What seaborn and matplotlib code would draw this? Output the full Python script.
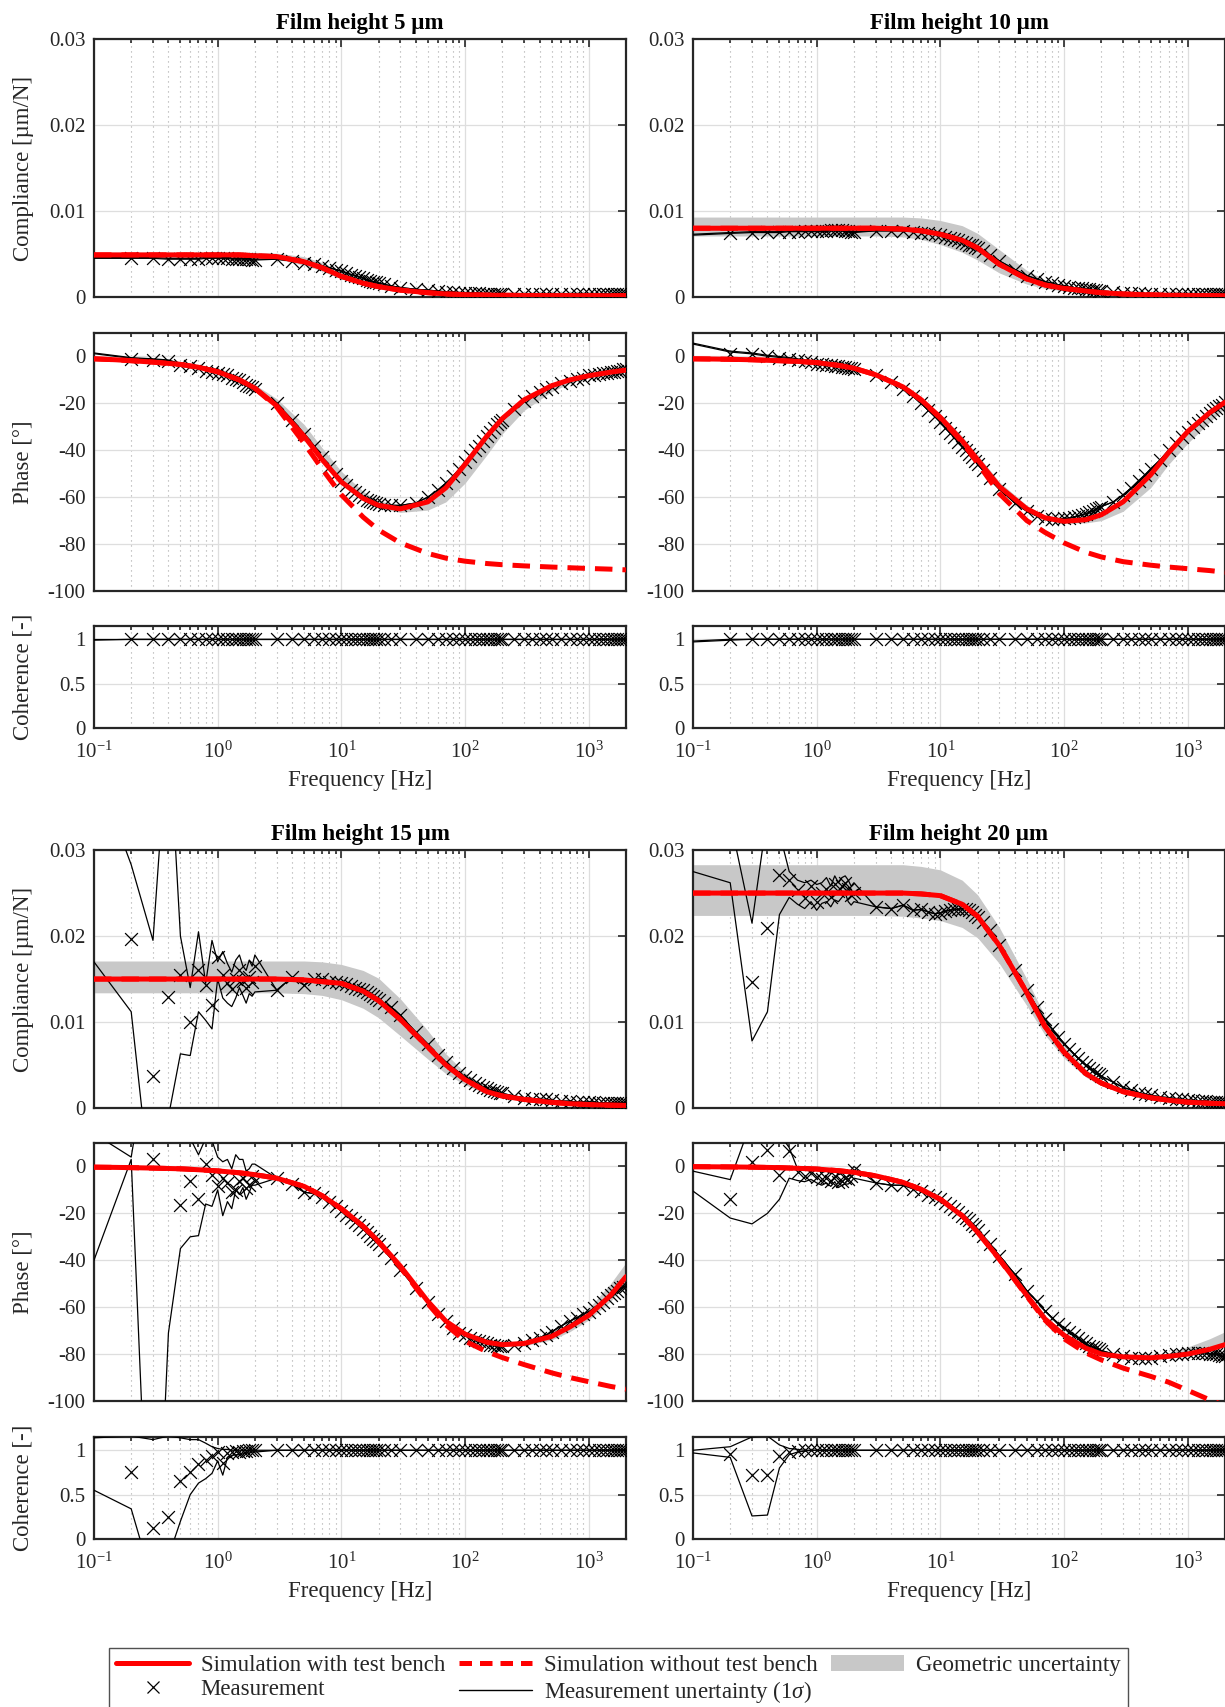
import numpy as np
import matplotlib
matplotlib.use("Agg")
import matplotlib.pyplot as plt
import seaborn as sns
from matplotlib.lines import Line2D
from matplotlib.patches import Patch
from matplotlib.ticker import LogLocator, FixedLocator, FixedFormatter, LogFormatterMathtext, NullFormatter

# simulation frequency grid [Hz]
F_SIM = [0.1, 0.15, 0.2, 0.3, 0.5, 0.7, 1, 1.5, 2, 3, 5, 7, 10, 15, 20, 30, 50, 70,
         100, 150, 200, 300, 500, 700, 1000, 1500, 2000]
# measurement frequencies [Hz]
MEAS_F = [0.2, 0.3, 0.4, 0.5, 0.6, 0.7, 0.8, 0.9, 1.0, 1.1, 1.2, 1.3, 1.4, 1.5, 1.6, 1.7, 1.8, 1.9, 2.0,
          3, 4, 5, 6, 7, 8, 9, 10, 11, 12, 13, 14, 15, 16, 17, 18, 19, 20, 22, 25,
          30, 40, 50, 60, 70, 80, 90, 100, 110, 120, 130, 140, 150, 160, 170, 180, 190, 200,
          250, 300, 350, 400, 450, 500, 600, 700, 800, 900, 1000, 1100, 1200, 1300, 1400, 1500,
          1600, 1700, 1800, 1900, 2000]
# low frequency part of the uncertainty bounds (above 2 Hz they follow the measurement)
UNC_F = [0.1, 0.2, 0.3, 0.4, 0.5, 0.6, 0.7, 0.8, 0.9, 1.0, 1.1, 1.2, 1.3, 1.4, 1.5, 1.6, 1.7, 1.8, 1.9, 2.0]

TITLES = ["Film height 5 µm", "Film height 10 µm", "Film height 15 µm", "Film height 20 µm"]
COMP_TICKS = [0, 0.01, 0.02, 0.03]
COMP_LABELS = ["0", "0.01", "0.02", "0.03"]
PH_TICKS = [-100, -80, -60, -40, -20, 0]
PH_LABELS = ["-100", "-80", "-60", "-40", "-20", "0"]
COH_TICKS = [0, 0.5, 1]
COH_LABELS = ["0", "0.5", "1"]

# ---------------- 5 um ----------------
COMP5_SIM = [0.0049, 0.0049, 0.0049, 0.0049, 0.0049, 0.0049, 0.0049, 0.0049, 0.0048, 0.0047, 0.0041, 0.0034, 0.0024,
             0.0016, 0.0012, 0.0008, 0.0005, 0.00036, 0.00028, 0.00022, 0.0002, 0.00018, 0.00017, 0.00016, 0.00016,
             0.00015, 0.00015]
COMP5_GEO_HI = [0.0052, 0.0052, 0.0052, 0.0052, 0.0052, 0.0052, 0.0052, 0.0052, 0.0052, 0.0051, 0.0047, 0.0040, 0.0030,
                0.0020, 0.0015, 0.0010, 0.0006, 0.00045, 0.00035, 0.00028, 0.00025, 0.00022, 0.00021, 0.0002, 0.0002,
                0.00019, 0.00019]
COMP5_GEO_LO = [0.0046, 0.0046, 0.0046, 0.0046, 0.0046, 0.0046, 0.0046, 0.0046, 0.0045, 0.0044, 0.0037, 0.0030, 0.0021,
                0.0014, 0.0010, 0.0007, 0.00042, 0.0003, 0.00024, 0.0002, 0.00017, 0.00015, 0.00014, 0.00013, 0.00013,
                0.00012, 0.00012]
PH5_SIM = [-1, -1.4, -1.8, -2.4, -3.4, -4.6, -6.5, -10, -13.5, -21, -34, -44, -53.5, -60.5, -63.5, -65, -62, -56,
           -46, -34, -26.5, -18.5, -12.5, -10, -8.2, -6.7, -5.8]
PH5_NOTB = [-1, -1.4, -1.8, -2.4, -3.4, -4.6, -6.5, -10, -13.6, -21.5, -37, -48, -59, -68.5, -74, -79.5, -84, -86,
            -87.3, -88.3, -88.8, -89.3, -89.8, -90.1, -90.4, -90.7, -91]
PH5_GEO_HI = [-0.5, -0.9, -1.3, -1.9, -2.9, -4, -5.8, -9, -12, -18, -29, -39, -49, -57.5, -61.5, -63.5, -61.5, -55,
              -45, -33, -25.5, -18, -12, -9.6, -7.9, -6.4, -5.5]
PH5_GEO_LO = [-1.5, -1.9, -2.3, -2.9, -3.9, -5.1, -7, -10.5, -14, -21.5, -34.5, -44.5, -54, -61, -64.5, -66.5, -65.5,
              -62, -54, -42, -33, -23, -15, -11.5, -9, -7.3, -6.3]
COMP5_MEAS = [0.0045, 0.0045, 0.0044, 0.0044, 0.0044, 0.0044, 0.0045, 0.0045, 0.0045, 0.0045,
              0.0045, 0.0044, 0.0044, 0.0044, 0.0044, 0.0044, 0.0044, 0.0043, 0.0043,
              0.0044, 0.0042, 0.0040, 0.0038, 0.0036, 0.0034, 0.0032, 0.0030, 0.0028, 0.0026,
              0.0025, 0.0023, 0.0022, 0.0020, 0.0019, 0.0018, 0.0017, 0.0016, 0.0015, 0.0013,
              0.0011, 0.0009, 0.0008, 0.0007, 0.0006, 0.0006, 0.0005, 0.0005, 0.0005,
              0.0005, 0.0005, 0.0004, 0.0004, 0.0004, 0.0004, 0.0004, 0.0004, 0.0004,
              0.0004, 0.0004, 0.0004, 0.0004, 0.0004, 0.0004, 0.0004, 0.0004, 0.0004, 0.0004, 0.0004,
              0.0004, 0.0004, 0.0004, 0.0004, 0.0004, 0.0004, 0.0004, 0.0004, 0.0004, 0.0004]
PH5_MEAS = [-1, -1.5, -2, -3.5, -4, -5, -6, -6.5, -7, -7.5, -8, -9, -9.5, -10, -11, -12, -12.5, -13, -14,
            -20, -27, -33, -38, -43, -47, -50, -53, -55, -57, -58, -59, -60, -61, -61.5, -62, -62.5, -63, -63.5, -63.5,
            -63.5, -62.5, -60, -57, -54, -51, -48, -45, -42.5, -40, -38, -36, -34, -32, -30.5, -29, -28, -27,
            -22.5, -19, -17, -15, -14, -13, -11.5, -10.5, -9.5, -9, -8, -8, -7.5, -7, -7, -6.5,
            -6.5, -6, -6, -5.5, -5.5]
COH5_MEAS = [1.0, 1.0, 1.0, 1.0, 1.0, 1.0, 1.0, 1.0, 1.0, 1.0, 1.0, 1.0, 1.0, 1.0, 1.0, 1.0, 1.0, 1.0, 1.0,
             1.0, 1.0, 1.0, 1.0, 1.0, 1.0, 1.0, 1.0, 1.0, 1.0, 1.0, 1.0, 1.0, 1.0, 1.0, 1.0, 1.0, 1.0, 1.0, 1.0,
             1.0, 1.0, 1.0, 1.0, 1.0, 1.0, 1.0, 1.0, 1.0, 1.0, 1.0, 1.0, 1.0, 1.0, 1.0, 1.0, 1.0, 1.0,
             1.0, 1.0, 1.0, 1.0, 1.0, 1.0, 1.0, 1.0, 1.0, 1.0, 1.0, 1.0, 1.0, 1.0, 1.0, 1.0,
             1.0, 1.0, 1.0, 1.0, 1.0]
COMP5_UNC_HI = [0.0046, 0.0046, 0.0046, 0.0045, 0.0045, 0.0045, 0.0045, 0.0046, 0.0046, 0.0046,
                0.0046, 0.0046, 0.0045, 0.0045, 0.0045, 0.0045, 0.0045, 0.0045, 0.0044, 0.0044]
COMP5_UNC_LO = [0.0045, 0.0045, 0.0045, 0.0044, 0.0044, 0.0044, 0.0044, 0.0045, 0.0045, 0.0045,
                0.0045, 0.0045, 0.0044, 0.0044, 0.0044, 0.0044, 0.0044, 0.0044, 0.0043, 0.0043]
PH5_UNC_HI = [1.5, -0.5, -1, -1.5, -3, -3.5, -4.5, -5.5, -6, -6.5, -7, -7.5, -8.5, -9, -9.5, -10.5, -11.5, -12, -12.5, -13.5]
PH5_UNC_LO = [1.2, -0.8, -1.3, -1.8, -3.3, -3.8, -4.8, -5.8, -6.3, -6.8, -7.3, -7.8, -8.8, -9.3, -9.8, -10.8, -11.8, -12.3, -12.8, -13.8]
COH5_UNC_HI = [1.0, 1.0, 1.0, 1.0, 1.0, 1.0, 1.0, 1.0, 1.0, 1.0, 1.0, 1.0, 1.0, 1.0, 1.0, 1.0, 1.0, 1.0, 1.0, 1.0]
COH5_UNC_LO = [0.99, 1.0, 1.0, 1.0, 1.0, 1.0, 1.0, 1.0, 1.0, 1.0, 1.0, 1.0, 1.0, 1.0, 1.0, 1.0, 1.0, 1.0, 1.0, 1.0]

# ---------------- 10 um ----------------
COMP10_SIM = [0.0080, 0.0080, 0.0080, 0.0080, 0.0080, 0.0080, 0.0080, 0.0080, 0.0080, 0.0080, 0.0079, 0.0077, 0.0073,
              0.0066, 0.0057, 0.0038, 0.0021, 0.0014, 0.0010, 0.0007, 0.0005, 0.00035, 0.00025, 0.0002, 0.00018,
              0.00016, 0.00015]
COMP10_GEO_HI = [0.0093, 0.0093, 0.0093, 0.0093, 0.0093, 0.0093, 0.0093, 0.0093, 0.0093, 0.0093, 0.0093, 0.0092, 0.0089,
                 0.0083, 0.0074, 0.0055, 0.0031, 0.0020, 0.0013, 0.0009, 0.0007, 0.0005, 0.0003, 0.00025, 0.00022,
                 0.0002, 0.00019]
COMP10_GEO_LO = [0.0071, 0.0071, 0.0071, 0.0071, 0.0071, 0.0071, 0.0071, 0.0071, 0.0071, 0.0071, 0.0070, 0.0067, 0.0061,
                 0.0052, 0.0043, 0.0028, 0.0015, 0.0010, 0.0007, 0.0005, 0.0004, 0.00028, 0.0002, 0.00016, 0.00014,
                 0.00013, 0.00012]
PH10_SIM = [-1, -1.1, -1.2, -1.4, -1.8, -2.1, -2.6, -3.8, -5, -7.8, -13, -18.5, -26, -36, -44, -55.5, -65, -68.8,
            -70.3, -69.6, -67.5, -62, -50.5, -41, -32, -24, -19.5]
PH10_NOTB = [-1, -1.1, -1.2, -1.4, -1.8, -2.1, -2.6, -3.8, -5, -7.8, -13, -18.6, -26.3, -36.5, -45.5, -58.5, -70, -75,
             -79.5, -83.5, -85.5, -87.5, -89, -89.8, -90.5, -91.3, -92]
PH10_GEO_HI = [-0.5, -0.6, -0.7, -0.9, -1.3, -1.6, -2.1, -3.3, -4.5, -7.3, -12.5, -17.5, -24.5, -34, -42, -53.5, -63.5,
               -68, -70, -69.4, -67, -61, -49.5, -40, -31, -23.5, -19.5]
PH10_GEO_LO = [-1.5, -1.6, -1.7, -1.9, -2.3, -2.6, -3.1, -4.3, -5.5, -8.3, -13.5, -19, -26.5, -36.5, -44.5, -56, -65.5,
               -69.5, -71, -71, -70, -66, -56, -46, -37, -28, -22]
COMP10_MEAS = [0.0075, 0.0075, 0.0076, 0.0076, 0.0076, 0.0076, 0.0077, 0.0077, 0.0077, 0.0077,
               0.0077, 0.0078, 0.0078, 0.0078, 0.0078, 0.0077, 0.0077, 0.0076, 0.0076,
               0.0077, 0.0077, 0.0077, 0.0076, 0.0075, 0.0074, 0.0073, 0.0072, 0.0070, 0.0069,
               0.0067, 0.0066, 0.0064, 0.0063, 0.0061, 0.0060, 0.0058, 0.0057, 0.0054, 0.0049,
               0.0042, 0.0032, 0.0025, 0.0021, 0.0018, 0.0016, 0.0014, 0.0013, 0.0012,
               0.0011, 0.0010, 0.0010, 0.0009, 0.0009, 0.0008, 0.0008, 0.0007, 0.0007,
               0.0006, 0.0005, 0.0005, 0.0005, 0.0004, 0.0004, 0.0004, 0.0004, 0.0004, 0.0004, 0.0004,
               0.0004, 0.0004, 0.0004, 0.0004, 0.0004, 0.0004, 0.0004, 0.0004, 0.0004, 0.0004]
PH10_MEAS = [1, 1, 0, -0.5, -1, -1.5, -2, -2.5, -3, -3, -3.5, -3.5, -4, -4, -4.5, -4.5, -5, -5, -5.5,
             -8, -11, -14, -17, -20, -23, -25.5, -28, -30.5, -32.5, -34.5, -36.5, -38.5, -40, -41.5, -43,
             -44.5, -46, -48.5, -52,
             -56.5, -62.5, -66, -68, -69, -69.5, -69.5, -69, -69, -68.5, -68, -67.5, -67, -66.5, -66, -65,
             -64.5, -64,
             -62, -59, -56, -53, -50.5, -48, -44, -40, -37, -34.5, -32, -30, -28.5, -27, -25.5, -24,
             -23, -22, -21, -20.5, -19.5]
COH10_MEAS = [1.0, 1.0, 1.0, 1.0, 1.0, 1.0, 1.0, 1.0, 1.0, 1.0, 1.0, 1.0, 1.0, 1.0, 1.0, 1.0, 1.0, 1.0, 1.0,
              1.0, 1.0, 1.0, 1.0, 1.0, 1.0, 1.0, 1.0, 1.0, 1.0, 1.0, 1.0, 1.0, 1.0, 1.0, 1.0, 1.0, 1.0, 1.0, 1.0,
              1.0, 1.0, 1.0, 1.0, 1.0, 1.0, 1.0, 1.0, 1.0, 1.0, 1.0, 1.0, 1.0, 1.0, 1.0, 1.0, 1.0, 1.0,
              1.0, 1.0, 1.0, 1.0, 1.0, 1.0, 1.0, 1.0, 1.0, 1.0, 1.0, 1.0, 1.0, 1.0, 1.0, 1.0,
              1.0, 1.0, 1.0, 1.0, 1.0]
COMP10_UNC_HI = [0.0073, 0.0075, 0.0076, 0.0076, 0.0076, 0.0077, 0.0077, 0.0077, 0.0077, 0.0077,
                 0.0077, 0.0077, 0.0078, 0.0078, 0.0078, 0.0078, 0.0077, 0.0077, 0.0076, 0.0076]
COMP10_UNC_LO = [0.0072, 0.0074, 0.0075, 0.0075, 0.0075, 0.0076, 0.0076, 0.0076, 0.0076, 0.0076,
                 0.0076, 0.0076, 0.0077, 0.0077, 0.0077, 0.0077, 0.0076, 0.0076, 0.0075, 0.0075]
PH10_UNC_HI = [5.7, 2.3, 1.5, 0.5, 0, -0.5, -1, -1.5, -2, -2.5, -2.5, -3, -3, -3.5, -3.5, -4, -4, -4.5, -4.5, -5]
PH10_UNC_LO = [5.3, 1.9, 1.1, 0.1, -0.4, -0.9, -1.4, -1.9, -2.4, -2.9, -2.9, -3.4, -3.4, -3.9, -3.9, -4.4, -4.4, -4.9, -4.9, -5.4]
COH10_UNC_HI = [0.98, 1.0, 1.0, 1.0, 1.0, 1.0, 1.0, 1.0, 1.0, 1.0, 1.0, 1.0, 1.0, 1.0, 1.0, 1.0, 1.0, 1.0, 1.0, 1.0]
COH10_UNC_LO = [0.97, 0.99, 1.0, 1.0, 1.0, 1.0, 1.0, 1.0, 1.0, 1.0, 1.0, 1.0, 1.0, 1.0, 1.0, 1.0, 1.0, 1.0, 1.0, 1.0]

# ---------------- 15 um ----------------
COMP15_SIM = [0.0150, 0.0150, 0.0150, 0.0150, 0.0150, 0.0150, 0.0150, 0.0150, 0.0150, 0.0150, 0.0149, 0.0147, 0.0145,
              0.0136, 0.0125, 0.0103, 0.0071, 0.0050, 0.0033, 0.0019, 0.0014, 0.0010, 0.00066, 0.0005, 0.0004,
              0.00033, 0.0003]
COMP15_GEO_HI = [0.0171, 0.0171, 0.0171, 0.0171, 0.0171, 0.0171, 0.0171, 0.0171, 0.0171, 0.0171, 0.0171, 0.0170, 0.0167,
                 0.0160, 0.0151, 0.0127, 0.0090, 0.0063, 0.0041, 0.0024, 0.0017, 0.0012, 0.0008, 0.0006, 0.00047,
                 0.0004, 0.00035]
COMP15_GEO_LO = [0.0134, 0.0134, 0.0134, 0.0134, 0.0134, 0.0134, 0.0134, 0.0134, 0.0134, 0.0134, 0.0133, 0.0131, 0.0126,
                 0.0116, 0.0105, 0.0084, 0.0057, 0.0040, 0.0027, 0.0016, 0.0012, 0.0008, 0.00055, 0.00042, 0.00034,
                 0.00028, 0.00025]
PH15_SIM = [-0.3, -0.4, -0.5, -0.7, -1.0, -1.4, -1.9, -2.7, -3.5, -5, -8.5, -12.5, -18, -25.5, -32, -42.5, -57.5,
            -66, -71.5, -75, -76, -75.5, -72.5, -68.5, -63.5, -55, -47]
PH15_NOTB = [-0.3, -0.4, -0.5, -0.7, -1.0, -1.4, -1.9, -2.7, -3.5, -5, -8.5, -12.5, -18, -25.6, -32.2, -43, -58.5,
             -67.5, -74.5, -79, -81.5, -84.5, -88, -90, -91.8, -93.8, -95]
PH15_GEO_HI = [0.2, 0.1, 0, -0.2, -0.5, -0.9, -1.4, -2.2, -3, -4.5, -8, -12, -17.5, -25, -31.5, -42, -57, -65.5, -71,
               -74.5, -75.5, -74.5, -71, -66.5, -60.5, -50, -41]
PH15_GEO_LO = [-0.8, -0.9, -1, -1.2, -1.5, -1.9, -2.4, -3.2, -4, -5.5, -9, -13, -18.5, -26, -32.5, -43, -58, -66.5,
               -72, -75.5, -76.5, -76.5, -74, -70.5, -65.5, -57.5, -50]
COMP15_MEAS = [0.0197, 0.0037, 0.0129, 0.0155, 0.0100, 0.0160, 0.0143, 0.0120, 0.0176, 0.0155,
               0.0145, 0.0138, 0.0150, 0.0160, 0.0148, 0.0140, 0.0152, 0.0147, 0.0165,
               0.0137, 0.0152, 0.0143, 0.0150, 0.0150, 0.0147, 0.0146, 0.0145, 0.0144, 0.0142,
               0.0140, 0.0138, 0.0137, 0.0135, 0.0133, 0.0130, 0.0128, 0.0126, 0.0122, 0.0118,
               0.0108, 0.0088, 0.0074, 0.0062, 0.0053, 0.0046, 0.0041, 0.0036, 0.0033,
               0.0029, 0.0027, 0.0024, 0.0023, 0.0021, 0.0020, 0.0019, 0.0018, 0.0017,
               0.0014, 0.0012, 0.0011, 0.0010, 0.0010, 0.0009, 0.0008, 0.0008, 0.0007, 0.0007, 0.0007,
               0.0007, 0.0006, 0.0006, 0.0006, 0.0006, 0.0006, 0.0006, 0.0006, 0.0006, 0.0006]
PH15_MEAS = [25, 3.2, 15, -16.5, -6.3, -13.8, 1.0, -3.5, -8.5, -5, -7, -11, -10, -6, -5, -9, -8, -4, -6,
             -5, -7.5, -11, -11.5, -13, -15, -17, -19, -20.5, -22, -23.5, -25, -26.5, -28, -29.5, -31, -32, -33,
             -35.5, -39,
             -44, -52, -58, -63, -66, -69, -71, -72, -73, -74, -74.5, -75, -75.5, -76, -76, -76.5, -76.5, -76.5,
             -76, -75.5, -74, -73, -72, -70.5, -68, -66, -64.5, -63, -62, -60.5, -59, -58, -56, -55,
             -54, -53, -52, -51.5, -51]
COH15_MEAS = [0.76, 0.12, 0.25, 0.65, 0.76, 0.85, 0.89, 0.93, 0.98, 0.86, 0.97, 0.98, 0.99, 0.98, 0.99, 0.99, 1.0, 1.0, 1.0,
              1.0, 1.0, 1.0, 1.0, 1.0, 1.0, 1.0, 1.0, 1.0, 1.0, 1.0, 1.0, 1.0, 1.0, 1.0, 1.0, 1.0, 1.0, 1.0, 1.0,
              1.0, 1.0, 1.0, 1.0, 1.0, 1.0, 1.0, 1.0, 1.0, 1.0, 1.0, 1.0, 1.0, 1.0, 1.0, 1.0, 1.0, 1.0,
              1.0, 1.0, 1.0, 1.0, 1.0, 1.0, 1.0, 1.0, 1.0, 1.0, 1.0, 1.0, 1.0, 1.0, 1.0, 1.0,
              1.0, 1.0, 1.0, 1.0, 1.0]
COMP15_UNC_HI = [0.040, 0.0283, 0.0195, 0.045, 0.0200, 0.0140, 0.0205, 0.0145, 0.0195, 0.0170,
                 0.0182, 0.0168, 0.0158, 0.0172, 0.0178, 0.0165, 0.0160, 0.0172, 0.0165, 0.0178]
COMP15_UNC_LO = [0.0170, 0.0112, -0.012, -0.001, 0.0063, 0.0061, 0.0112, 0.0102, 0.0092, 0.0150,
                 0.0128, 0.0122, 0.0118, 0.0128, 0.0140, 0.0131, 0.0122, 0.0133, 0.0130, 0.0135]
PH15_UNC_HI = [14, 4, 60, 50, 20, 12, 5, 12, 11, 4, 2, 3, -1, 5, 3, 3, -2, -1, 1, 1]
PH15_UNC_LO = [-40, 3, -216, -71, -35, -30, -29.5, -16, -17, -10, -21, -15, -18, -10, -12, -9, -14, -11, -8, -8]
COH15_UNC_HI = [1.14, 1.16, 1.12, 1.16, 1.14, 1.12, 1.12, 1.08, 1.04, 1.02, 1.01, 1.01, 1.0, 1.0, 1.0, 1.0, 1.0, 1.0, 1.0, 1.0]
COH15_UNC_LO = [0.55, 0.34, -0.5, -0.2, 0.2, 0.5, 0.63, 0.68, 0.74, 0.88, 0.72, 0.92, 0.94, 0.95, 0.95, 0.96, 0.97, 0.97, 0.98, 0.98]

# ---------------- 20 um ----------------
COMP20_SIM = [0.0250, 0.0250, 0.0250, 0.0250, 0.0250, 0.0250, 0.0250, 0.0250, 0.0250, 0.0250, 0.0250, 0.0249, 0.0247,
              0.0237, 0.0223, 0.0189, 0.0134, 0.0095, 0.0065, 0.0040, 0.0029, 0.0019, 0.0012, 0.0009, 0.00068,
              0.00055, 0.0005]
COMP20_GEO_HI = [0.0283, 0.0283, 0.0283, 0.0283, 0.0283, 0.0283, 0.0283, 0.0283, 0.0283, 0.0283, 0.0283, 0.0281, 0.0277,
                 0.0265, 0.0248, 0.0210, 0.0150, 0.0107, 0.0073, 0.0045, 0.0032, 0.0021, 0.0013, 0.0010, 0.00075,
                 0.0006, 0.00055]
COMP20_GEO_LO = [0.0224, 0.0224, 0.0224, 0.0224, 0.0224, 0.0224, 0.0224, 0.0224, 0.0224, 0.0224, 0.0223, 0.0221, 0.0218,
                 0.0210, 0.0198, 0.0168, 0.0119, 0.0085, 0.0058, 0.0036, 0.0026, 0.0017, 0.0011, 0.0008, 0.0006,
                 0.0005, 0.00045]
PH20_SIM = [-0.1, -0.15, -0.2, -0.3, -0.5, -0.8, -1.1, -1.8, -2.5, -4, -6.8, -9.8, -14, -21, -28, -39.5, -55, -65,
            -72, -77.5, -80, -81.2, -81.6, -81, -80, -78, -76]
PH20_NOTB = [-0.1, -0.15, -0.2, -0.3, -0.5, -0.8, -1.1, -1.8, -2.5, -4, -6.8, -9.8, -14, -21, -28, -39.6, -55.3, -65.5,
             -73.5, -79.5, -82.5, -86, -89.5, -92, -95.5, -99.5, -102]
PH20_GEO_HI = [0.4, 0.35, 0.3, 0.2, 0, -0.3, -0.6, -1.3, -2, -3.5, -6.3, -9.3, -13.5, -20.5, -27.5, -39, -54.5, -64.5,
               -71.5, -77, -79.5, -80.5, -80.8, -79.5, -77, -73.5, -70.5]
PH20_GEO_LO = [-0.6, -0.65, -0.7, -0.8, -1, -1.3, -1.6, -2.3, -3, -4.5, -7.3, -10.3, -14.5, -21.5, -28.5, -40, -55.5,
               -65.5, -72.5, -78, -80.5, -81.7, -82.1, -81.5, -80.5, -78.5, -76.5]
COMP20_MEAS = [0.0315, 0.0146, 0.0209, 0.0271, 0.0265, 0.0254, 0.0244, 0.0258, 0.0240, 0.0250,
               0.0255, 0.0246, 0.0260, 0.0252, 0.0258, 0.0262, 0.0255, 0.0248, 0.0250,
               0.0234, 0.0232, 0.0236, 0.0230, 0.0231, 0.0228, 0.0226, 0.0227, 0.0229, 0.0230,
               0.0231, 0.0231, 0.0232, 0.0232, 0.0230, 0.0228, 0.0225, 0.0222, 0.0216, 0.0207,
               0.0190, 0.0160, 0.0137, 0.0118, 0.0103, 0.0092, 0.0083, 0.0075, 0.0069,
               0.0063, 0.0058, 0.0054, 0.0050, 0.0047, 0.0044, 0.0041, 0.0039, 0.0037,
               0.0030, 0.0024, 0.0021, 0.0018, 0.0016, 0.0015, 0.0013, 0.0012, 0.0011, 0.0010, 0.0009,
               0.0009, 0.0008, 0.0008, 0.0008, 0.0007, 0.0007, 0.0007, 0.0007, 0.0007, 0.0007]
PH20_MEAS = [-14, 2, 7, -3.5, 6.4, -2.5, -4, -3, -4.5, -5.5, -5, -6, -4, -6.5, -6, -5, -5.5, -4, -1.5,
             -7, -8, -8, -9.5, -10.5, -12, -13, -14, -15.5, -17, -18, -19.5, -21, -22, -23, -24.5, -25.5, -27,
             -29.5, -33,
             -38, -46, -53, -57.5, -61.5, -64.5, -67, -69, -70.5, -72, -73, -74.5, -75.5, -76.5, -77, -77.5,
             -78, -78.5,
             -80, -81, -81.5, -81.5, -81.5, -81.5, -81, -80.5, -80, -80, -79.5, -79.5, -79.5, -79.5, -79.5,
             -80, -80, -80, -80.5, -81, -81]
COH20_MEAS = [0.96, 0.72, 0.72, 0.93, 0.98, 0.99, 1.0, 1.0, 1.0, 1.0, 1.0, 1.0, 1.0, 1.0, 1.0, 1.0, 1.0, 1.0, 1.0,
              1.0, 1.0, 1.0, 1.0, 1.0, 1.0, 1.0, 1.0, 1.0, 1.0, 1.0, 1.0, 1.0, 1.0, 1.0, 1.0, 1.0, 1.0, 1.0, 1.0,
              1.0, 1.0, 1.0, 1.0, 1.0, 1.0, 1.0, 1.0, 1.0, 1.0, 1.0, 1.0, 1.0, 1.0, 1.0, 1.0, 1.0, 1.0,
              1.0, 1.0, 1.0, 1.0, 1.0, 1.0, 1.0, 1.0, 1.0, 1.0, 1.0, 1.0, 1.0, 1.0, 1.0, 1.0,
              1.0, 1.0, 1.0, 1.0, 1.0]
COMP20_UNC_HI = [0.036, 0.0335, 0.0215, 0.0342, 0.032, 0.0275, 0.0265, 0.0262, 0.0265, 0.0260,
                 0.0262, 0.0268, 0.0258, 0.0270, 0.0262, 0.0268, 0.0270, 0.0265, 0.0258, 0.0262]
COMP20_UNC_LO = [0.0275, 0.0262, 0.0078, 0.0112, 0.0225, 0.0245, 0.0237, 0.0232, 0.0240, 0.0230,
                 0.0238, 0.0240, 0.0234, 0.0242, 0.0240, 0.0245, 0.0250, 0.0240, 0.0236, 0.0240]
PH20_UNC_HI = [-2, -5.6, 20, 22, 14, 8, -1, 0, -0.5, -1, -2.5, -2, -3, -1.5, -3.5, -3, -2, -2.5, -1.5, 0]
PH20_UNC_LO = [-10.5, -22, -24.5, -20, -14, -5, -6, -6.5, -5.5, -7, -8, -7, -8.5, -6.5, -9, -8, -7.5, -7.5, -6.5, -5]
COH20_UNC_HI = [1.0, 1.04, 1.15, 1.16, 1.06, 1.02, 1.01, 1.0, 1.0, 1.0, 1.0, 1.0, 1.0, 1.0, 1.0, 1.0, 1.0, 1.0, 1.0, 1.0]
COH20_UNC_LO = [0.97, 0.92, 0.26, 0.27, 0.8, 0.95, 0.98, 0.99, 1.0, 1.0, 1.0, 1.0, 1.0, 1.0, 1.0, 1.0, 1.0, 1.0, 1.0, 1.0]

RED = "#ff0000"
GRAY = "#c8c8c8"
SPINE = "#262626"

sns.set_theme(style="white")
plt.rcParams["font.family"] = ["Liberation Serif", "DejaVu Serif"]
plt.rcParams["mathtext.fontset"] = "custom"
plt.rcParams["mathtext.rm"] = "Liberation Serif"
plt.rcParams["mathtext.it"] = "Liberation Serif:italic"
plt.rcParams["axes.unicode_minus"] = False

fig = plt.figure(figsize=(12.25, 17.07), dpi=100)

COL_X = [0.0767, 0.5657]
W = 0.4343
ROWS = [[(0.8260, 0.1511), (0.6538, 0.1511), (0.5735, 0.0598)],
        [(0.3509, 0.1511), (0.1793, 0.1511), (0.0984, 0.0598)]]

panels = [
    dict(comp=(COMP5_SIM, COMP5_GEO_LO, COMP5_GEO_HI, COMP5_MEAS, COMP5_UNC_LO, COMP5_UNC_HI),
         ph=(PH5_SIM, PH5_NOTB, PH5_GEO_LO, PH5_GEO_HI, PH5_MEAS, PH5_UNC_LO, PH5_UNC_HI),
         coh=(COH5_MEAS, COH5_UNC_LO, COH5_UNC_HI)),
    dict(comp=(COMP10_SIM, COMP10_GEO_LO, COMP10_GEO_HI, COMP10_MEAS, COMP10_UNC_LO, COMP10_UNC_HI),
         ph=(PH10_SIM, PH10_NOTB, PH10_GEO_LO, PH10_GEO_HI, PH10_MEAS, PH10_UNC_LO, PH10_UNC_HI),
         coh=(COH10_MEAS, COH10_UNC_LO, COH10_UNC_HI)),
    dict(comp=(COMP15_SIM, COMP15_GEO_LO, COMP15_GEO_HI, COMP15_MEAS, COMP15_UNC_LO, COMP15_UNC_HI),
         ph=(PH15_SIM, PH15_NOTB, PH15_GEO_LO, PH15_GEO_HI, PH15_MEAS, PH15_UNC_LO, PH15_UNC_HI),
         coh=(COH15_MEAS, COH15_UNC_LO, COH15_UNC_HI)),
    dict(comp=(COMP20_SIM, COMP20_GEO_LO, COMP20_GEO_HI, COMP20_MEAS, COMP20_UNC_LO, COMP20_UNC_HI),
         ph=(PH20_SIM, PH20_NOTB, PH20_GEO_LO, PH20_GEO_HI, PH20_MEAS, PH20_UNC_LO, PH20_UNC_HI),
         coh=(COH20_MEAS, COH20_UNC_LO, COH20_UNC_HI)),
]

N_LOW = len(UNC_F) - 1            # measurement points covered by UNC_F (0.2 ... 2.0 Hz)
UNC_LINE_F = UNC_F + MEAS_F[N_LOW:]


def style(ax, ylim, ticks, labels, show_x):
    ax.set_xscale("log")
    ax.set_xlim(0.1, 2000)
    ax.set_ylim(*ylim)
    ax.xaxis.set_major_locator(LogLocator(base=10, numticks=12))
    ax.xaxis.set_minor_locator(LogLocator(base=10, subs=[2, 3, 4, 5, 6, 7, 8, 9], numticks=30))
    ax.xaxis.set_minor_formatter(NullFormatter())
    if show_x:
        ax.xaxis.set_major_formatter(LogFormatterMathtext())
    else:
        ax.xaxis.set_major_formatter(NullFormatter())
    ax.yaxis.set_major_locator(FixedLocator(ticks))
    ax.yaxis.set_major_formatter(FixedFormatter(labels))
    ax.tick_params(which="both", direction="in", top=True, right=True, colors=SPINE,
                   labelcolor="#262626", labelsize=15, width=1.2)
    ax.tick_params(which="major", length=6, pad=6)
    ax.tick_params(axis="x", which="major", pad=10)
    ax.tick_params(which="minor", length=3)
    ax.grid(True, which="major", color="#dedede", lw=0.9, ls="-")
    ax.grid(True, which="minor", axis="x", color="#a8a8a8", lw=0.8, ls=(0, (1, 3.5)))
    ax.set_axisbelow(True)
    for s in ax.spines.values():
        s.set_color(SPINE)
        s.set_linewidth(1.6)
    ax.set_xlabel("")
    ax.set_ylabel("")


def draw_meas(ax, meas, lo, hi):
    sns.lineplot(x=UNC_LINE_F, y=hi + meas[N_LOW:], ax=ax, color="black", lw=0.9,
                 estimator=None, sort=False, zorder=4)
    sns.lineplot(x=UNC_LINE_F, y=lo + meas[N_LOW:], ax=ax, color="black", lw=0.9,
                 estimator=None, sort=False, zorder=4)
    sns.scatterplot(x=MEAS_F, y=meas, ax=ax, marker="x", color="black", s=85,
                    linewidth=0.9, zorder=3, legend=False)


for i, p in enumerate(panels):
    grp, col = divmod(i, 2)
    x0 = COL_X[col]
    axc = fig.add_axes([x0, ROWS[grp][0][0], W, ROWS[grp][0][1]])
    axp = fig.add_axes([x0, ROWS[grp][1][0], W, ROWS[grp][1][1]])
    axh = fig.add_axes([x0, ROWS[grp][2][0], W, ROWS[grp][2][1]])
    for ax in (axc, axp, axh):
        ax.set_xscale("log")

    sim, glo, ghi, meas, ulo, uhi = p["comp"]
    axc.fill_between(F_SIM, glo, ghi, color=GRAY, lw=0, zorder=1)
    draw_meas(axc, meas, ulo, uhi)
    sns.lineplot(x=F_SIM, y=sim, ax=axc, color=RED, lw=3.6, linestyle=(0, (3.5, 2)),
                 estimator=None, sort=False, zorder=5)
    sns.lineplot(x=F_SIM, y=sim, ax=axc, color=RED, lw=3.6, estimator=None, sort=False, zorder=6)
    style(axc, (0, 0.03), COMP_TICKS, COMP_LABELS, False)
    axc.set_title(TITLES[i], fontsize=16.5, fontweight="bold", pad=7, color="black")

    sim, notb, glo, ghi, meas, ulo, uhi = p["ph"]
    axp.fill_between(F_SIM, glo, ghi, color=GRAY, lw=0, zorder=1)
    draw_meas(axp, meas, ulo, uhi)
    sns.lineplot(x=F_SIM, y=notb, ax=axp, color=RED, lw=3.6, linestyle=(0, (3.5, 2)),
                 estimator=None, sort=False, zorder=5)
    sns.lineplot(x=F_SIM, y=sim, ax=axp, color=RED, lw=3.6, estimator=None, sort=False, zorder=6)
    style(axp, (-100, 10), PH_TICKS, PH_LABELS, False)

    meas, ulo, uhi = p["coh"]
    draw_meas(axh, meas, ulo, uhi)
    style(axh, (0, 1.15), COH_TICKS, COH_LABELS, True)
    axh.set_xlabel("Frequency [Hz]", fontsize=16.5, labelpad=5, color="#262626")

    if col == 0:
        axc.set_ylabel("Compliance [µm/N]", fontsize=16.5, color="#262626")
        axp.set_ylabel("Phase [°]", fontsize=16.5, color="#262626")
        axh.set_ylabel("Coherence [-]", fontsize=16.5, color="#262626")
        for ax in (axc, axp, axh):
            ax.yaxis.set_label_coords(-0.113, 0.5)

handles = [
    Line2D([], [], color=RED, lw=3.6),
    Line2D([], [], color="black", marker="x", ls="none", markersize=8, markeredgewidth=0.9),
    Line2D([], [], color=RED, lw=3.6, ls=(0, (2.5, 1.6))),
    Line2D([], [], color="black", lw=1.0),
    Patch(facecolor=GRAY, edgecolor="none"),
]
labels = ["Simulation with test bench", "Measurement", "Simulation without test bench",
          "Measurement unertainty (1$\\sigma$)", "Geometric uncertainty"]
leg = fig.legend(handles, labels, loc="upper left", bbox_to_anchor=(109 / 1225, 1 - 1648 / 1707),
                 ncol=3, fontsize=16.5, frameon=True, fancybox=False, edgecolor=SPINE,
                 borderaxespad=0, handlelength=3.2, handletextpad=0.5, columnspacing=0.6,
                 labelspacing=0.15, borderpad=0.3)
leg.get_frame().set_linewidth(1.0)

fig.savefig("out.png", dpi=100)
